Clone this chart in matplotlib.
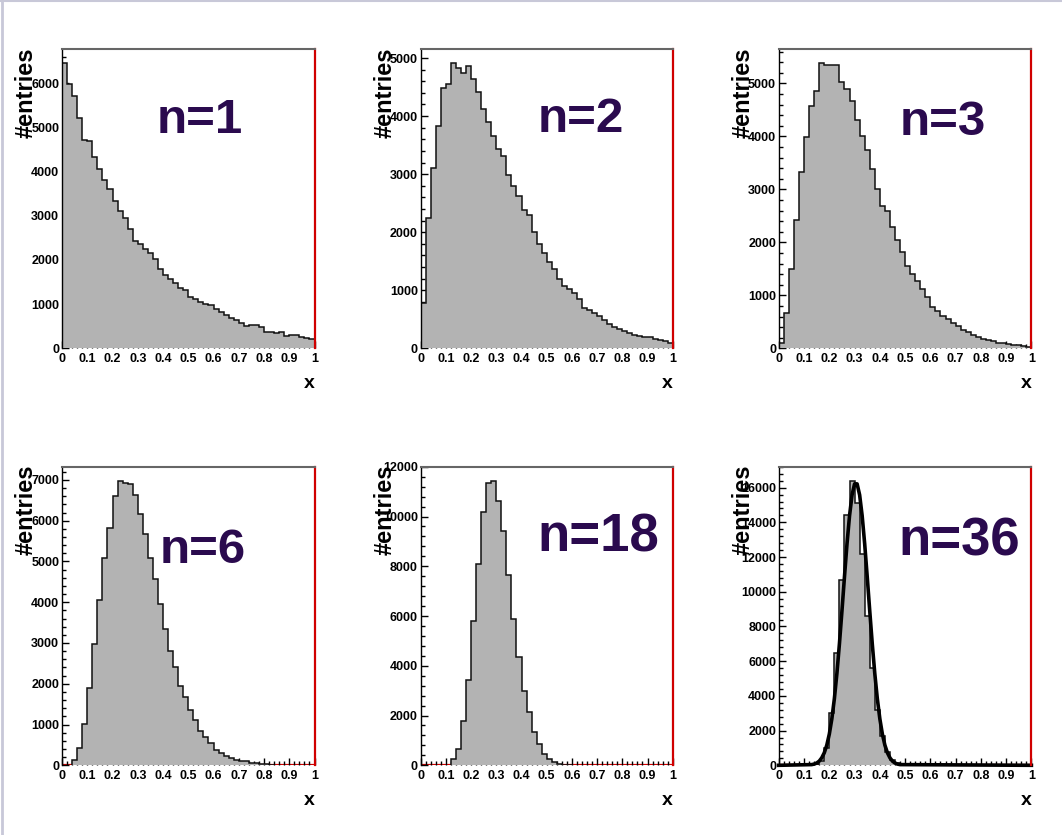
import numpy as np
import matplotlib
matplotlib.use('Agg')
import matplotlib.pyplot as plt
from matplotlib.lines import Line2D
from matplotlib.ticker import MultipleLocator, FuncFormatter

plt.rcParams['font.family'] = ['Liberation Sans', 'DejaVu Sans']
plt.rcParams['font.weight'] = 'bold'

W, H = 1062, 835

# 50 bins between 0 and 1
edges = np.linspace(0, 1, 51)

h_n1 = [6450, 5990, 5700, 5220, 4720, 4690, 4340, 4060, 3800, 3610,
        3340, 3100, 2950, 2690, 2430, 2370, 2240, 2150, 2010, 1800,
        1660, 1570, 1480, 1360, 1320, 1150, 1110, 1050, 1000, 970,
        900, 820, 750, 690, 640, 580, 500, 530, 530, 490,
        380, 370, 340, 370, 280, 310, 290, 260, 240, 210]

h_n2 = [785, 2250, 3110, 3830, 4480, 4560, 4910, 4830, 4750, 4860,
        4640, 4420, 4120, 3900, 3660, 3440, 3320, 2980, 2790, 2620,
        2380, 2290, 2000, 1800, 1640, 1490, 1370, 1190, 1070, 1030,
        950, 850, 700, 660, 600, 560, 490, 410, 360, 330,
        300, 260, 235, 210, 200, 200, 155, 140, 125, 85]

h_n3 = [100, 660, 1500, 2430, 3330, 3980, 4570, 4860, 5380, 5350,
        5340, 5350, 5020, 4890, 4670, 4300, 4010, 3750, 3380, 3010,
        2690, 2600, 2280, 2050, 1810, 1560, 1410, 1270, 1120, 960,
        780, 710, 610, 550, 470, 430, 345, 310, 260, 210,
        180, 160, 130, 105, 95, 80, 70, 55, 45, 30]

h_n6 = [0, 0, 130, 430, 1010, 1900, 2970, 4050, 5090, 5810,
        6600, 6980, 6930, 6900, 6630, 6160, 5670, 5080, 4560, 3950,
        3350, 2810, 2420, 1940, 1670, 1360, 1110, 850, 690, 540,
        380, 310, 230, 180, 130, 115, 100, 65, 50, 35,
        25, 10, 0, 0, 0, 0, 0, 0, 0, 0]

h_n18 = [0, 0, 0, 0, 0, 0, 270, 670, 1800, 3430,
         5790, 8090, 10200, 11360, 11440, 10630, 9430, 7660, 5890, 4370,
         3000, 2140, 1340, 860, 455, 270, 135, 55, 25, 10,
         0, 0, 0, 0, 0, 0, 0, 0, 0, 0,
         0, 0, 0, 0, 0, 0, 0, 0, 0, 0]

h_n36 = [0, 0, 0, 0, 0, 0, 0, 30, 220, 1000,
         3000, 6500, 10700, 14400, 16400, 15100, 12200, 8600, 5600, 3200,
         1700, 750, 330, 140, 55, 22, 8, 0, 0, 0,
         0, 0, 0, 0, 0, 0, 0, 0, 0, 0,
         0, 0, 0, 0, 0, 0, 0, 0, 0, 0]

# gaussian fit drawn on the n=36 panel
fit_x = [0.0, 0.13, 0.14, 0.15, 0.16, 0.17, 0.18, 0.19, 0.20, 0.21, 0.22,
         0.23, 0.24, 0.25, 0.26, 0.27, 0.28, 0.29, 0.30, 0.31, 0.32, 0.33,
         0.34, 0.35, 0.36, 0.37, 0.38, 0.39, 0.40, 0.41, 0.42, 0.43, 0.44,
         0.45, 0.46, 0.47, 0.48, 1.0]
fit_y = [0, 40, 70, 130, 240, 430, 720, 1160, 1800, 2680, 3840,
         5290, 7000, 8900, 10870, 12760, 14380, 15580, 16220, 16220, 15580, 14380,
         12760, 10870, 8900, 7000, 5290, 3840, 2680, 1800, 1160, 720, 430,
         240, 130, 70, 40, 0]

labels = ['n=1', 'n=2', 'n=3', 'n=6', 'n=18', 'n=36']
hists = [h_n1, h_n2, h_n3, h_n6, h_n18, h_n36]
y_major = [1000, 1000, 1000, 1000, 2000, 2000]

# layout in pixels: frame (left, top, right, bottom), label (x, baseline, size)
frames = [(62, 49, 314.5, 348.3), (420.7, 49, 672.7, 348.3), (778.8, 49, 1031.4, 348.3),
          (62, 466.5, 314.5, 765.3), (420.7, 466.5, 672.7, 765.3), (778.8, 466.5, 1031.4, 765.3)]
ntext = [(157, 133, 35.5), (538, 132, 35.5), (900, 135, 35.5),
         (160, 563, 35.5), (537, 552, 38), (898, 555, 38)]

fig = plt.figure(figsize=(W / 100, H / 100), dpi=100)
fig.patch.set_facecolor('white')

fill_col = '#b3b3b3'
red = '#d00000'
txt_col = '#2a0a4e'


def xfmt(v, pos):
    if abs(v) < 1e-9:
        return '0'
    if abs(v - 1) < 1e-9:
        return '1'
    return f'{v:.1f}'


for i in range(6):
    l, t, r, b = frames[i]
    ax = fig.add_axes([l / W, 1 - b / H, (r - l) / W, (b - t) / H])
    vals = np.array(hists[i], dtype=float)

    ax.axhline(0, color=red, lw=1.6, zorder=1)
    ax.stairs(vals, edges, fill=True, color=fill_col, zorder=2)
    nz = np.nonzero(vals)[0]
    a, z = nz[0], nz[-1] + 1
    ax.stairs(vals[a:z], edges[a:z + 1], color='#111111', lw=1.1, zorder=3)

    if i == 5:
        ax.plot(fit_x, fit_y, color='black', lw=2.6, zorder=4,
                solid_joinstyle='round', clip_on=False)

    ax.set_xlim(0, 1)
    ax.set_ylim(0, 1.05 * vals.max())

    ax.xaxis.set_major_locator(MultipleLocator(0.1))
    ax.xaxis.set_minor_locator(MultipleLocator(0.02))
    ax.xaxis.set_major_formatter(FuncFormatter(xfmt))
    ax.yaxis.set_major_locator(MultipleLocator(y_major[i]))
    ax.yaxis.set_minor_locator(MultipleLocator(y_major[i] / 5))
    ax.yaxis.set_major_formatter(FuncFormatter(lambda v, p: f'{int(round(v))}'))

    ax.tick_params(which='both', direction='in', top=False, right=False,
                   color='black', width=1, labelsize=9)
    ax.tick_params(which='major', length=5)
    ax.tick_params(which='minor', length=3)
    ax.tick_params(axis='x', pad=3.5)
    ax.tick_params(axis='y', pad=2)

    ax.spines['right'].set_color(red)
    ax.spines['right'].set_linewidth(1.6)
    ax.spines['top'].set_color('#666666')
    ax.spines['top'].set_linewidth(1.5)
    ax.spines['left'].set_color('black')
    ax.spines['left'].set_linewidth(1)
    ax.spines['bottom'].set_visible(False)
    for s in ax.spines.values():
        s.set_zorder(5)

    fig.text((l - 36) / W, 1 - (t - 2) / H, '#entries', rotation=90,
             ha='center', va='top', fontsize=17, fontweight='bold')
    fig.text(r / W, 1 - (b + 35) / H, 'x', ha='right', va='center',
             fontsize=14, fontweight='bold')

    tx, ty, ts = ntext[i]
    fig.text(tx / W, 1 - ty / H, labels[i], ha='left', va='baseline',
             fontsize=ts, fontweight='bold', color=txt_col)

# faint slide border on top and left
fig.add_artist(Line2D([0, 1], [1 - 1 / H, 1 - 1 / H], color='#c8c8d8', lw=1.5))
fig.add_artist(Line2D([1.5 / W, 1.5 / W], [0, 1], color='#c8c8d8', lw=2))

fig.savefig('out.png', dpi=100)
